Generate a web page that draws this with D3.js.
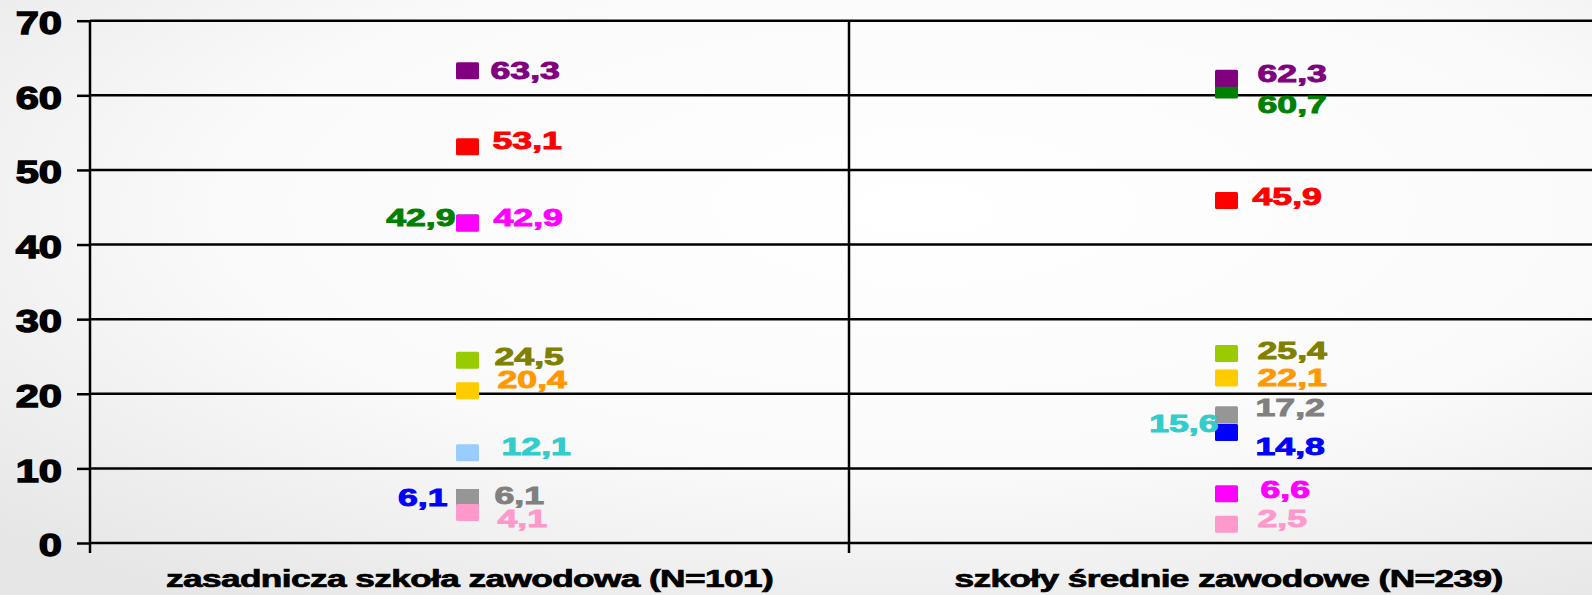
<!DOCTYPE html>
<html>
<head>
<meta charset="utf-8">
<script src="https://cdn.jsdelivr.net/npm/d3@7"></script>
<style>
    html, body { margin: 0; padding: 0; overflow: hidden; }
    svg { display: block; font-family: "Liberation Sans", Arial, sans-serif; font-weight: bold; }
</style>
</head>
<body>
<div id="chart"></div>
<script>
(function() {
    // categories and tick labels
    var categories = ["zasadnicza szkoła zawodowa (N=101)", "szkoły średnie zawodowe (N=239)"];
    var yTicks = [0, 10, 20, 30, 40, 50, 60, 70];

    // series, in drawing order (later ones sit on top)
    var seriesNames  = ["s1", "s2", "s3", "s4", "s5", "s6", "s7", "s8", "s9", "s10"];
    var markerColors = ["#99CCFF", "#0000FF", "#969696", "#FF99CC", "#008000", "#800080", "#FF0000", "#FF00FF", "#99CC00", "#FFCC00"];
    var labelColors  = ["#33CCCC", "#0000FF", "#808080", "#FF99CC", "#008000", "#800080", "#FF0000", "#FF00FF", "#808000", "#FF9900"];
    var valuesZsz    = [12.1, 6.1, 6.1, 4.1, 42.9, 63.3, 53.1, 42.9, 24.5, 20.4];
    var valuesSz     = [15.6, 14.8, 17.2, 2.5, 60.7, 62.3, 45.9, 6.6, 25.4, 22.1];

    // label nudges [dx, dy] from the marker, negative dx = label on the left
    var nudgesZsz = [[34, -6], [-20, 0], [27, -2], [30, 6], [-12, -5], [23, 0], [25, -6], [26, -5], [27, -3], [30, -11]];
    var nudgesSz  = [[-8, -3], [29, 14], [29, -7], [31, -6], [31, 15], [31, -4], [26, -4], [34, -4], [31, -3], [31, 0]];

    var baseWidth = 1592, baseHeight = 595;
    var margin = {top: 20.7, left: 90, right: -16, bottom: 52};

    var x = d3.scaleBand()
        .domain(categories)
        .range([margin.left, baseWidth - margin.right]);
    var y = d3.scaleLinear()
        .domain([0, 70])
        .range([baseHeight - margin.bottom, margin.top]);

    var svg = d3.select("#chart")
        .append("svg")
            .attr("width", baseWidth)
            .attr("height", baseHeight);

    var grad = svg.append("defs")
        .append("radialGradient")
            .attr("id", "bg")
            .attr("cx", "58%").attr("cy", "35%").attr("r", "80%");
    grad.append("stop").attr("offset", "0%").attr("stop-color", "#ffffff");
    grad.append("stop").attr("offset", "55%").attr("stop-color", "#fafafa");
    grad.append("stop").attr("offset", "100%").attr("stop-color", "#e6e6e6");

    svg.append("rect")
        .attr("width", baseWidth)
        .attr("height", baseHeight)
        .style("fill", "url(#bg)");

    // horizontal grid lines
    svg.append("g")
        .selectAll("line")
        .data(yTicks)
        .enter()
        .append("line")
            .attr("x1", margin.left)
            .attr("x2", baseWidth)
            .attr("y1", function(d) { return y(d); })
            .attr("y2", function(d) { return y(d); })
            .style("stroke", "#000")
            .style("stroke-width", 2.5);

    // y axis with tick labels
    var yAxis = svg.append("g")
        .attr("transform", "translate(" + margin.left + ",0)")
        .call(d3.axisLeft(y).tickValues(yTicks).tickSize(13).tickSizeOuter(0));
    yAxis.select(".domain").remove();
    yAxis.selectAll("line").style("stroke", "#000").style("stroke-width", 2.5);
    yAxis.selectAll("text")
        .attr("x", null)
        .attr("dy", "0.37em")
        .attr("transform", "translate(-28,1) scale(1.3,1)")
        .style("font-size", "32px")
        .style("font-weight", "bold")
        .style("font-family", "'Liberation Sans', Arial, sans-serif")
        .style("fill", "#000")
        .style("stroke", "#000")
        .style("stroke-width", 1.4);

    // vertical lines at band boundaries
    svg.append("g")
        .selectAll("line")
        .data(categories)
        .enter()
        .append("line")
            .attr("x1", function(d) { return x(d); })
            .attr("x2", function(d) { return x(d); })
            .attr("y1", y(70))
            .attr("y2", y(0) + 10)
            .style("stroke", "#000")
            .style("stroke-width", 2.5);

    // category labels
    svg.append("g")
        .selectAll("text")
        .data(categories)
        .enter()
        .append("text")
            .attr("transform", function(d) {
                return "translate(" + (x(d) + x.bandwidth() / 2) + ", 587) scale(1.5,1)";
            })
            .attr("text-anchor", "middle")
            .style("font-size", "23.5px")
            .style("letter-spacing", "-0.4px")
            .style("fill", "#000")
            .style("stroke", "#000")
            .style("stroke-width", 0.7)
            .text(function(d) { return d; });

    // points
    var rows = [];
    [valuesZsz, valuesSz].forEach(function(vals, ci) {
        var nudges = ci === 0 ? nudgesZsz : nudgesSz;
        vals.forEach(function(v, si) {
            rows.push({cat: categories[ci], value: v, idx: si, nudge: nudges[si]});
        });
    });

    var markerW = 23, markerH = 17;
    svg.append("g")
        .selectAll("rect")
        .data(rows)
        .enter()
        .append("rect")
            .attr("x", function(d) { return x(d.cat) + x.bandwidth() / 2 - 2 - markerW / 2; })
            .attr("y", function(d) { return y(d.value) - markerH / 2; })
            .attr("width", markerW)
            .attr("height", markerH)
            .attr("rx", 1.5)
            .style("fill", function(d) { return markerColors[d.idx]; });

    var fmt = function(v) { return d3.format(".1f")(v).replace(".", ","); };

    svg.append("g")
        .selectAll("text")
        .data(rows)
        .enter()
        .append("text")
            .attr("transform", function(d) {
                var cx = x(d.cat) + x.bandwidth() / 2 - 2;
                return "translate(" + (cx + d.nudge[0]) + ", " + (y(d.value) + d.nudge[1]) + ") scale(1.55,1)";
            })
            .attr("dy", "0.36em")
            .attr("text-anchor", function(d) { return d.nudge[0] < 0 ? "end" : "start"; })
            .style("font-size", "23px")
            .style("fill", function(d) { return labelColors[d.idx]; })
            .style("stroke", function(d) { return labelColors[d.idx]; })
            .style("stroke-width", 0.9)
            .text(function(d) { return fmt(d.value); });
})()
</script>
</body>
</html>
